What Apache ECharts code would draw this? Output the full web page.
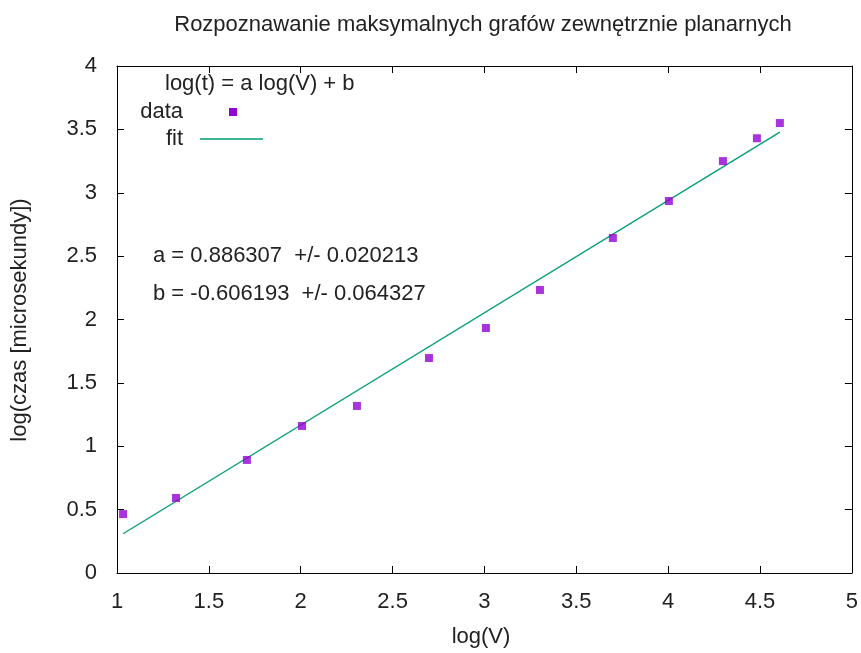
<!DOCTYPE html>
<html>
<head>
    <meta charset="UTF-8">
    <title>Rozpoznawanie maksymalnych grafów zewnętrznie planarnych</title>
    <script src="https://cdn.jsdelivr.net/npm/echarts@6/dist/echarts.min.js"></script>
    <style>
        body { margin: 0; background: #fff; }
        #chart { width: 861px; height: 653px; }
    </style>
</head>
<body>
    <div id="chart"></div>
    <script>
    // dane
    var logV = [1.033, 1.321, 1.707, 2.007, 2.306, 2.698, 3.008, 3.302, 3.699, 4.004, 4.298, 4.483, 4.608];
    var logT = [0.465, 0.592, 0.892, 1.160, 1.318, 1.696, 1.933, 2.233, 2.643, 2.935, 3.250, 3.430, 3.550];
    var fitX = [1.033, 4.608];
    var fitY = [0.310, 3.478];
    var xTicks = [1, 1.5, 2, 2.5, 3, 3.5, 4, 4.5, 5];
    var yTicks = [0, 0.5, 1, 1.5, 2, 2.5, 3, 3.5, 4];

    var FONT = 'Liberation Sans';
    var FS = 22;
    var TXT = '#222';

    var chart = echarts.init(document.getElementById('chart'));

    function pairs(xs, ys) {
        return xs.map(function (x, i) { return [x, ys[i]]; });
    }
    function txt(s, x, y, align, rot) {
        return { type: 'text', x: x, y: y, rotation: rot || 0,
                 style: { text: s, fill: TXT, font: FS + 'px ' + FONT, textAlign: align, textVerticalAlign: 'middle' } };
    }

    var tick = { show: true, inside: true, length: 7, lineStyle: { color: '#000' } };
    var line = { show: true, onZero: false, lineStyle: { color: '#000', width: 1 } };
    var lbl = { fontFamily: FONT, fontSize: FS, color: TXT,
                formatter: function (v) { return String(+v.toFixed(1)); } };

    var option = {
        backgroundColor: '#fff',
        animation: false,
        grid: { left: 117, right: 9, top: 66, bottom: 80 },
        xAxis: [{
            type: 'value', min: xTicks[0], max: xTicks[xTicks.length - 1], interval: 0.5, position: 'bottom',
            axisLine: line, axisTick: tick, splitLine: { show: false },
            axisLabel: Object.assign({ margin: 18 }, lbl)
        }, {
            type: 'value', min: xTicks[0], max: xTicks[xTicks.length - 1], interval: 0.5, position: 'top',
            axisLine: line, axisTick: tick, axisLabel: { show: false }, splitLine: { show: false }
        }],
        yAxis: [{
            type: 'value', min: yTicks[0], max: yTicks[yTicks.length - 1], interval: 0.5, position: 'left',
            axisLine: line, axisTick: tick, splitLine: { show: false },
            axisLabel: Object.assign({ margin: 20 }, lbl)
        }, {
            type: 'value', min: yTicks[0], max: yTicks[yTicks.length - 1], interval: 0.5, position: 'right',
            axisLine: line, axisTick: tick, axisLabel: { show: false }, splitLine: { show: false }
        }],
        series: [{
            name: 'fit',
            type: 'line',
            data: pairs(fitX, fitY),
            showSymbol: false,
            lineStyle: { color: '#009e73', width: 1.3 },
            z: 2
        }, {
            name: 'data',
            type: 'scatter',
            data: pairs(logV, logT),
            symbol: 'rect',
            symbolSize: 8,
            itemStyle: { color: '#9400d3' },
            z: 3
        }],
        graphic: [
            txt('Rozpoznawanie maksymalnych grafów zewnętrznie planarnych', 483, 25, 'center'),
            txt('log(czas [microsekundy])', 20, 320, 'center', Math.PI / 2),
            txt('log(V)', 481, 637, 'center'),
            txt('log(t) = a log(V) + b', 165, 84, 'left'),
            txt('data', 183, 112, 'right'),
            { type: 'rect', shape: { x: 229, y: 108, width: 8, height: 8 }, style: { fill: '#9400d3' } },
            txt('fit', 183, 139, 'right'),
            { type: 'line', shape: { x1: 200, y1: 139, x2: 263, y2: 139 }, style: { stroke: '#009e73', lineWidth: 1.3 } },
            txt('a = 0.886307  +/- 0.020213', 153, 256, 'left'),
            txt('b = -0.606193  +/- 0.064327', 153, 294, 'left')
        ]
    };

    chart.setOption(option);
    </script>
</body>
</html>
